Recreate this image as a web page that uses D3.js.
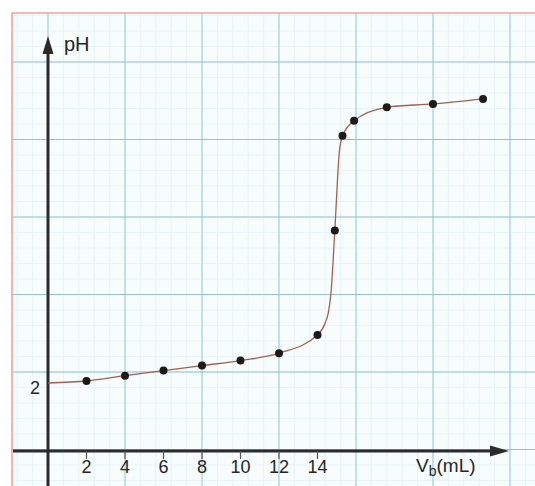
<!DOCTYPE html>
<html>
<head>
<meta charset="utf-8">
<script src="https://cdn.jsdelivr.net/npm/d3@7"></script>
<style>
  html, body { margin: 0; padding: 0; background: #ffffff; }
  svg { display: block; }
  text { font-family: "Liberation Sans", Arial, Helvetica, sans-serif; fill: #262626; }
</style>
</head>
<body>
<svg id="chart" width="535" height="486"></svg>
<script>
// Titration: volume of base added (mL) and measured pH
const volumes = [2, 4, 6, 8, 10, 12, 14, 14.9, 15.3, 15.9, 17.6, 20, 22.6];
const phValues = [2.09, 2.25, 2.40, 2.55, 2.70, 2.92, 3.46, 6.58, 9.41, 9.86, 10.26, 10.36, 10.51];

// Hand-drawn fitted curve through the measurements
const curveVol = [0, 2, 4, 6, 8, 10, 12, 14, 14.4, 14.56, 14.7, 14.9, 15.13, 15.3, 15.9, 17.6, 20, 22.6];
const curvePH  = [2.03, 2.09, 2.25, 2.40, 2.55, 2.70, 2.92, 3.46, 3.82, 4.12, 4.72, 6.58, 8.9, 9.41, 9.86, 10.26, 10.36, 10.51];

// Axis labelling
const xTicks = [2, 4, 6, 8, 10, 12, 14];
const yTickLabels = [2];
const xTitle = "V";
const xTitleSub = "b";
const xTitleUnit = "(mL)";
const yTitle = "pH";

const W = 535, H = 486;
const svg = d3.select("#chart");

const x = d3.scaleLinear().domain([0, 24]).range([48, 510]);
const y = d3.scaleLinear().domain([0, 12]).range([451, 49]);

// Graph paper
const paper = { left: 12, top: 13, right: W, bottom: H };
svg.append("rect")
  .attr("x", paper.left).attr("y", paper.top)
  .attr("width", paper.right - paper.left).attr("height", paper.bottom - paper.top)
  .attr("fill", "#f7fcfc");

const colStep = x(4) - x(0);
const rowStep = 77.5;
const rowBase = y(0) - 1.5;
const gMinor = svg.append("g").attr("stroke", "#e3f1f3").attr("stroke-width", 0.7);
const gMajor = svg.append("g").attr("stroke-width", 1.2);

// columns
for (let px = x(0) - colStep; px < paper.right; px += colStep / 5) {
  if (px <= paper.left) continue;
  gMinor.append("line").attr("x1", px).attr("x2", px).attr("y1", paper.top).attr("y2", paper.bottom);
}
for (let px = x(0); px < paper.right; px += colStep) {
  gMajor.append("line").attr("x1", px).attr("x2", px)
    .attr("y1", paper.top).attr("y2", paper.bottom).attr("stroke", "#9fd3da");
}
// rows
for (let py = rowBase + rowStep; py > paper.top; py -= rowStep / 5) {
  if (py >= paper.bottom) continue;
  gMinor.append("line").attr("x1", paper.left).attr("x2", paper.right).attr("y1", py).attr("y2", py);
}
for (let py = rowBase; py > paper.top; py -= rowStep) {
  gMajor.append("line").attr("x1", paper.left).attr("x2", paper.right)
    .attr("y1", py).attr("y2", py).attr("stroke", "#8fc4ca");
}

// Paper border
svg.append("path")
  .attr("d", `M${paper.left},${paper.bottom} L${paper.left},${paper.top} L${paper.right},${paper.top}`)
  .attr("fill", "none").attr("stroke", "#eea3a0").attr("stroke-width", 1.6);

// Axes with arrows
const axisColor = "#2b2b2b";
svg.append("line").attr("x1", x(0)).attr("x2", x(0)).attr("y1", H).attr("y2", 50)
  .attr("stroke", axisColor).attr("stroke-width", 3);
svg.append("path")
  .attr("d", `M${x(0)},36 L${x(0) - 5.5},54 L${x(0) + 5.5},54 Z`).attr("fill", axisColor);
svg.append("line").attr("x1", 13).attr("x2", 494).attr("y1", y(0)).attr("y2", y(0))
  .attr("stroke", axisColor).attr("stroke-width", 3);
svg.append("path")
  .attr("d", `M509,${y(0)} L490,${y(0) - 5.5} L490,${y(0) + 5.5} Z`).attr("fill", axisColor);

// x ticks and labels
svg.append("g").selectAll("line").data(xTicks).join("line")
  .attr("x1", d => x(d)).attr("x2", d => x(d))
  .attr("y1", y(0)).attr("y2", y(0) + 8)
  .attr("stroke", "#555").attr("stroke-width", 1.2);
svg.append("g").selectAll("text").data(xTicks).join("text")
  .attr("x", d => x(d)).attr("y", 473)
  .attr("text-anchor", "middle").attr("font-size", 18)
  .text(d => d);

// y label
svg.append("g").selectAll("text").data(yTickLabels).join("text")
  .attr("x", 35).attr("y", d => y(d) + 10)
  .attr("text-anchor", "middle").attr("font-size", 18)
  .text(d => d);

// axis titles
svg.append("text").attr("x", 64).attr("y", 51).attr("font-size", 20).text(yTitle);
const xt = svg.append("text").attr("x", 416).attr("y", 472).attr("font-size", 19);
xt.append("tspan").text(xTitle);
xt.append("tspan").attr("font-size", 14).attr("dy", 4).text(xTitleSub);
xt.append("tspan").attr("dy", -4).text(xTitleUnit);

// Fitted curve
const curvePts = curveVol.map((v, i) => [v, curvePH[i]]);
const line = d3.line().x(d => x(d[0])).y(d => y(d[1])).curve(d3.curveMonotoneX);
svg.append("path").datum(curvePts)
  .attr("d", line).attr("fill", "none")
  .attr("stroke", "#a35f52").attr("stroke-width", 1.3);

// Measured points
svg.append("g").selectAll("circle").data(volumes.map((v, i) => [v, phValues[i]])).join("circle")
  .attr("cx", d => x(d[0])).attr("cy", d => y(d[1])).attr("r", 4)
  .attr("fill", "#1e1a1a");
</script>
</body>
</html>
